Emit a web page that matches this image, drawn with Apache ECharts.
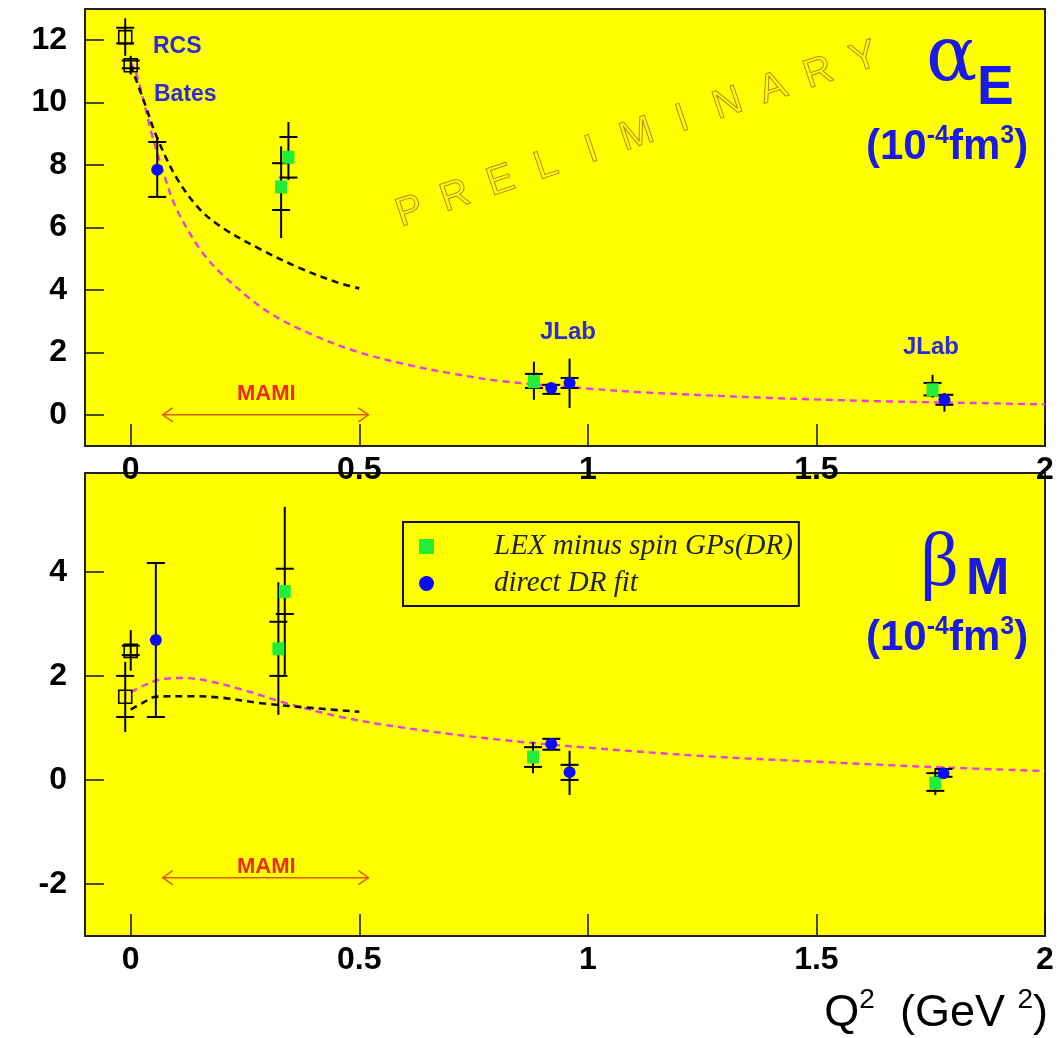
<!DOCTYPE html>
<html><head><meta charset="utf-8">
<script src="https://cdn.jsdelivr.net/npm/echarts@6/dist/echarts.min.js"></script>
<style>html,body{margin:0;padding:0;background:#fff}#c{width:1061px;height:1038px}</style>
</head><body><div id="c"></div>
<script>
// ---------- data ----------
const xTicks = [0, 0.5, 1, 1.5, 2];
const alphaTicks = [0, 2, 4, 6, 8, 10, 12];
const betaTicks = [-2, 0, 2, 4];

// point: [Q2, value, statLow, statHigh, totalLow, totalHigh]
const alphaRCS   = [[-0.012, 12.1, 11.9, 12.4, 11.5, 12.7], [0.0, 11.2, 11.1, 11.35, 10.9, 11.5]];
const alphaLEX   = [[0.345, 8.25, 7.6, 8.9, 7.52, 9.38], [0.329, 7.3, 6.56, 8.06, 5.66, 8.6],
                    [0.882, 1.06, 0.86, 1.31, 0.48, 1.7], [1.754, 0.8, 0.62, 1.02, 0.55, 1.28]];
const alphaDR    = [[0.058, 7.85, 6.98, 8.74, 6.98, 8.9], [0.92, 0.86, 0.67, 0.96, 0.67, 0.96],
                    [0.96, 1.02, 0.86, 1.18, 0.22, 1.8], [1.78, 0.48, 0.32, 0.64, 0.1, 0.7]];
const betaRCS    = [[-0.012, 1.6, 1.21, 2.0, 0.92, 2.27], [0.0, 2.48, 2.4, 2.58, 2.1, 2.88]];
const betaLEX    = [[0.337, 3.62, 3.19, 4.06, 2.02, 5.25], [0.323, 2.52, 2.0, 3.04, 1.25, 3.8],
                    [0.88, 0.44, 0.25, 0.63, 0.13, 0.73], [1.76, -0.06, -0.21, 0.13, -0.29, 0.19]];
const betaDR     = [[0.055, 2.69, 1.21, 4.17, 1.21, 4.17], [0.92, 0.69, 0.58, 0.79, 0.58, 0.79],
                    [0.96, 0.15, 0.0, 0.29, -0.29, 0.56], [1.778, 0.13, 0.06, 0.21, 0.06, 0.21]];

// theory curves [Q2, value]
const alphaCurveDR  = [[0.0, 11.3], [0.015, 10.8], [0.046, 9.0], [0.075, 7.6], [0.1, 6.6], [0.152, 5.3],
                       [0.2, 4.5], [0.3, 3.3], [0.4, 2.55], [0.5, 2.0], [0.6, 1.62], [0.7, 1.33], [0.81, 1.08],
                       [1.0, 0.84], [1.12, 0.72], [1.4, 0.54], [1.65, 0.43], [1.87, 0.37], [2.0, 0.33]];
const alphaCurveLEX = [[0.0, 11.2], [0.03, 10.0], [0.057, 8.9], [0.1, 7.6], [0.15, 6.6], [0.2, 6.0],
                       [0.284, 5.3], [0.37, 4.7], [0.45, 4.25], [0.5, 4.05]];
const betaCurveDR   = [[0.0, 1.69], [0.03, 1.82], [0.06, 1.92], [0.108, 1.96], [0.16, 1.92], [0.25, 1.72],
                       [0.33, 1.5], [0.46, 1.21], [0.6, 1.0], [0.8, 0.78], [1.0, 0.62], [1.25, 0.46],
                       [1.5, 0.35], [1.75, 0.25], [2.0, 0.17]];
const betaCurveLEX  = [[0.0, 1.35], [0.03, 1.5], [0.055, 1.6], [0.13, 1.61], [0.2, 1.58], [0.28, 1.48],
                       [0.4, 1.38], [0.5, 1.31]];

// MAMI range [from, to, level]
const alphaMAMI = [[0.07, 0.52, 0]];
const betaMAMI  = [[0.07, 0.52, -1.88]];

// ---------- chart ----------
const chart = echarts.init(document.getElementById('c'));
const AX_FONT = 'Liberation Sans';
const BLUE_TXT = '#2c2cd6';
const TITLE_BLUE = '#1a1ae6';

function xAxisCfg(gi) {
  return {
    type: 'value', gridIndex: gi, min: -0.1, max: 2,
    axisLine: { show: false, onZero: false },
    axisTick: { show: true, inside: true, length: 22, customValues: xTicks, lineStyle: { color: '#111', width: 1.5 } },
    axisLabel: { customValues: xTicks, fontFamily: AX_FONT, fontWeight: 'bold', fontSize: 32, color: '#000', margin: 8,
                 formatter: v => String(v) },
    splitLine: { show: false }
  };
}
function yAxisCfg(gi, min, max, ticks) {
  return {
    type: 'value', gridIndex: gi, min: min, max: max,
    axisLine: { show: false, onZero: false },
    axisTick: { show: true, inside: true, length: 19, customValues: ticks, lineStyle: { color: '#111', width: 1.5 } },
    axisLabel: { customValues: ticks, fontFamily: AX_FONT, fontWeight: 'bold', fontSize: 32, color: '#000', margin: 18,
                 formatter: v => String(v) },
    splitLine: { show: false }
  };
}

function errRender(params, api) {
  const x = api.value(0);
  const c = api.coord([x, api.value(1)]);
  const sl = api.coord([x, api.value(2)]), sh = api.coord([x, api.value(3)]);
  const tl = api.coord([x, api.value(4)]), th = api.coord([x, api.value(5)]);
  const hw = 9;
  const st = { stroke: '#000', lineWidth: 2 };
  return { type: 'group', children: [
    { type: 'line', shape: { x1: c[0], y1: tl[1], x2: c[0], y2: th[1] }, style: st },
    { type: 'line', shape: { x1: c[0] - hw, y1: sl[1], x2: c[0] + hw, y2: sl[1] }, style: st },
    { type: 'line', shape: { x1: c[0] - hw, y1: sh[1], x2: c[0] + hw, y2: sh[1] }, style: st }
  ]};
}
function arrowRender(params, api) {
  const a = api.coord([api.value(0), api.value(2)]);
  const b = api.coord([api.value(1), api.value(2)]);
  const st = { stroke: '#e4581c', lineWidth: 1.5, fill: 'none' };
  return { type: 'group', children: [
    { type: 'line', shape: { x1: a[0], y1: a[1], x2: b[0], y2: b[1] }, style: st },
    { type: 'polyline', shape: { points: [[a[0] + 10, a[1] - 7], [a[0], a[1]], [a[0] + 10, a[1] + 7]] }, style: st },
    { type: 'polyline', shape: { points: [[b[0] - 10, b[1] - 7], [b[0], b[1]], [b[0] - 10, b[1] + 7]] }, style: st }
  ]};
}

function errSeries(data, gi) {
  return { type: 'custom', xAxisIndex: gi, yAxisIndex: gi, data: data, renderItem: errRender, z: 3, silent: true,
           encode: { x: 0, y: 1 } };
}
function curve(data, gi, color, width) {
  return { type: 'line', xAxisIndex: gi, yAxisIndex: gi, data: data, smooth: 0.35, showSymbol: false, z: 2,
           lineStyle: { color: color, width: width, type: [7, 5] }, silent: true };
}
const LEX_NAME = 'LEX minus spin GPs(DR)';
const DR_NAME = 'direct DR fit';
function lexScatter(data, gi) {
  return { name: LEX_NAME, type: 'scatter', xAxisIndex: gi, yAxisIndex: gi, data: data.map(d => [d[0], d[1]]),
           symbol: 'rect', symbolSize: [12, 13], itemStyle: { color: '#22ee3a', opacity: 1 }, z: 4 };
}
function drScatter(data, gi) {
  return { name: DR_NAME, type: 'scatter', xAxisIndex: gi, yAxisIndex: gi, data: data.map(d => [d[0], d[1]]),
           symbol: 'circle', symbolSize: 12, itemStyle: { color: '#0a0aff', opacity: 1 }, z: 5 };
}
function rcsScatter(data, gi) {
  return { name: 'RCS', type: 'scatter', xAxisIndex: gi, yAxisIndex: gi, data: data.map(d => [d[0], d[1]]),
           symbol: 'rect', symbolSize: 13, itemStyle: { color: 'rgba(0,0,0,0)', borderColor: '#000', borderWidth: 1.6, opacity: 1 }, z: 4 };
}

// watermark letters
const wm = 'PRELIMINARY';
const wmStart = [410, 212], wmEnd = [864, 58];
const wmAngle = Math.atan2(wmStart[1] - wmEnd[1], wmEnd[0] - wmStart[0]);
const wmEls = wm.split('').map((ch, i) => {
  const t = i / (wm.length - 1);
  return { type: 'text', x: wmStart[0] + t * (wmEnd[0] - wmStart[0]), y: wmStart[1] + t * (wmEnd[1] - wmStart[1]),
           rotation: wmAngle, z: 1, silent: true,
           style: { text: ch, font: '40px "Liberation Sans"', fill: 'rgba(0,0,0,0)', stroke: '#bf8424', lineWidth: 1,
                    align: 'center', verticalAlign: 'middle' } };
});

function unitText(x, y) {
  return { type: 'text', x: x, y: y, z: 10, silent: true, style: {
    text: '{m|(10}{s|-4}{m|fm}{s|3}{m|)}', fill: TITLE_BLUE,
    rich: { m: { fontFamily: AX_FONT, fontWeight: 'bold', fontSize: 42, lineHeight: 44, fill: TITLE_BLUE, verticalAlign: 'bottom' },
            s: { fontFamily: AX_FONT, fontWeight: 'bold', fontSize: 25, lineHeight: 25, fill: TITLE_BLUE, verticalAlign: 'top' } } } };
}
function label(txt, x, y, size, color) {
  return { type: 'text', x: x, y: y, z: 10, silent: true,
           style: { text: txt, font: 'bold ' + size + 'px "Liberation Sans"', fill: color } };
}

chart.setOption({
  animation: false,
  backgroundColor: '#fff',
  grid: [
    { left: 85, top: 9, width: 960, height: 437, show: true, backgroundColor: '#ffff00', borderColor: '#222', borderWidth: 2 },
    { left: 85, top: 473, width: 960, height: 463, show: true, backgroundColor: '#ffff00', borderColor: '#222', borderWidth: 2 }
  ],
  xAxis: [xAxisCfg(0), xAxisCfg(1)],
  yAxis: [yAxisCfg(0, -1, 13, alphaTicks), yAxisCfg(1, -3, 5.9, betaTicks)],
  legend: {
    data: [{ name: LEX_NAME, icon: 'rect' }, { name: DR_NAME, icon: 'circle' }],
    left: 403, top: 522, orient: 'vertical', backgroundColor: '#ffff00', borderColor: '#111', borderWidth: 2,
    padding: [10, 6, 8, 16], itemGap: 8, itemWidth: 15, itemHeight: 15, selectedMode: false,
    textStyle: { fontFamily: 'Liberation Serif', fontStyle: 'italic', fontSize: 29, color: '#222', padding: [0, 0, 0, 55] }
  },
  graphic: [].concat(wmEls, [
    label('RCS', 153, 35, 23, BLUE_TXT),
    label('Bates', 154, 83, 23, BLUE_TXT),
    label('JLab', 540, 320, 24, BLUE_TXT),
    label('JLab', 903, 335, 24, BLUE_TXT),
    label('MAMI', 237, 383, 22, '#ee2a12'),
    label('MAMI', 237, 856, 22, '#ee2a12'),
    { type: 'text', x: 926, y: 60, z: 10, silent: true,
      style: { text: 'α', font: '76px "DejaVu Serif"', fill: TITLE_BLUE, verticalAlign: 'middle' } },
    { type: 'text', x: 977, y: 89, z: 10, silent: true,
      style: { text: 'E', font: 'bold 55px "Liberation Sans"', fill: TITLE_BLUE, verticalAlign: 'middle' } },
    unitText(866, 124),
    { type: 'text', x: 920, y: 565, z: 10, silent: true,
      style: { text: 'β', font: '76px "Liberation Serif"', fill: TITLE_BLUE, verticalAlign: 'middle' } },
    { type: 'text', x: 966, y: 580, z: 10, silent: true,
      style: { text: 'M', font: 'bold 52px "Liberation Sans"', fill: TITLE_BLUE, verticalAlign: 'middle' } },
    unitText(866, 615),
    { type: 'text', x: 1048, y: 986, z: 10, silent: true, style: {
      text: '{m|Q}{s|2}{m|  (GeV }{s|2}{m|)}', align: 'right', fill: '#000',
      rich: { m: { fontFamily: AX_FONT, fontSize: 45, lineHeight: 50, fill: '#000', verticalAlign: 'bottom' },
              s: { fontFamily: AX_FONT, fontSize: 28, lineHeight: 28, fill: '#000', verticalAlign: 'top' } } } }
  ]),
  series: [
    curve(alphaCurveDR, 0, '#ea3ee0', 2.4),
    curve(alphaCurveLEX, 0, '#111', 2.6),
    curve(betaCurveDR, 1, '#ea3ee0', 2.4),
    curve(betaCurveLEX, 1, '#111', 2.6),
    { type: 'custom', xAxisIndex: 0, yAxisIndex: 0, data: alphaMAMI, renderItem: arrowRender, silent: true, z: 2 },
    { type: 'custom', xAxisIndex: 1, yAxisIndex: 1, data: betaMAMI, renderItem: arrowRender, silent: true, z: 2 },
    errSeries(alphaRCS, 0), errSeries(alphaLEX, 0), errSeries(alphaDR, 0),
    errSeries(betaRCS, 1), errSeries(betaLEX, 1), errSeries(betaDR, 1),
    rcsScatter(alphaRCS, 0), lexScatter(alphaLEX, 0), drScatter(alphaDR, 0),
    rcsScatter(betaRCS, 1), lexScatter(betaLEX, 1), drScatter(betaDR, 1)
  ]
});
</script></body></html>
